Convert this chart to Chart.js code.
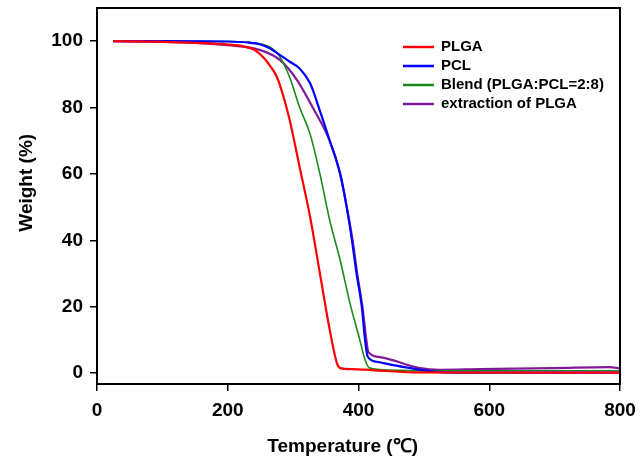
<!DOCTYPE html>
<html>
<head>
<meta charset="utf-8">
<script src="https://cdn.jsdelivr.net/npm/chart.js@4.4.1/dist/chart.umd.min.js"></script>
<style>
  html, body { margin: 0; padding: 0; background: #fff; }
  #wrap { width: 640px; height: 466px; }
</style>
</head>
<body>
<div id="wrap"><canvas id="tga" width="640" height="466"></canvas></div>
<script>
// TGA curves: temperature (C) and weight (%)
const seriesNames = ["PLGA", "PCL", "Blend (PLGA:PCL=2:8)", "extraction of PLGA"];
const seriesColors = ["#ff0000", "#0000ff", "#1a8a1a", "#7f1a9a"];

const plgaT = [25, 100, 150, 200, 225, 240, 255, 265, 275, 285, 295, 310, 326, 341, 356, 367, 372, 390, 420, 484, 600, 800];
const plgaW = [100, 99.8, 99.5, 99, 98.4, 97.5, 95, 92.5, 89.3, 83.5, 76, 62, 47, 30, 13, 3, 1.5, 1.2, 0.9, 0.2, 0.1, 0.1];

const pclT = [25, 100, 200, 230, 250, 265, 280, 295, 310, 326, 341, 356, 372, 382, 390, 397, 405, 410, 414, 428, 470, 524, 600, 800];
const pclW = [100, 100, 99.9, 99.6, 99, 97.8, 95.8, 93.8, 91.8, 87.3, 79, 70, 60, 50, 40, 30, 20, 10, 5, 3.4, 1.8, 0.3, 0.1, 0.1];

const blendT = [25, 100, 200, 240, 260, 270, 280, 295, 310, 326, 341, 356, 372, 387, 402, 410, 417, 448, 500, 600, 800];
const blendW = [100, 100, 99.9, 99.5, 98.6, 97.5, 95.2, 89, 80, 72, 60, 46, 34, 21, 10, 4, 1.5, 0.9, 0.7, 0.7, 0.7];

const extT = [25, 100, 150, 200, 250, 280, 306, 330, 356, 372, 382, 391, 398, 406, 412, 415, 433, 494, 524, 586, 700, 784, 800];
const extW = [100, 99.8, 99.5, 98.8, 97.3, 94.3, 88.3, 80, 70, 60, 50, 40, 30, 20, 10, 6.4, 4.8, 1.5, 1.0, 1.2, 1.5, 1.8, 1.4];

const xTicks = [0, 200, 400, 600, 800];
const yTicks = [0, 20, 40, 60, 80, 100];

const FONT = '"Liberation Sans", Arial, sans-serif';

function pts(ts, ws) {
    return ts.map((t, i) => ({x: t, y: ws[i]}));
}

const allT = [plgaT, pclT, blendT, extT];
const allW = [plgaW, pclW, blendW, extW];

const datasets = seriesNames.map((name, i) => ({
    label: name,
    data: pts(allT[i], allW[i]),
    borderColor: seriesColors[i],
    backgroundColor: seriesColors[i],
    borderWidth: i === 2 ? 1.6 : 2.2,
    pointRadius: 0,
    fill: false,
    cubicInterpolationMode: "monotone"
}));

// box around the plot (top + right sides, the axes draw the rest)
const frame = {
    id: "frame",
    afterDraw(chart) {
        const a = chart.chartArea, ctx = chart.ctx;
        ctx.save();
        ctx.strokeStyle = "#000";
        ctx.lineWidth = 2;
        ctx.strokeRect(a.left, a.top, a.right - a.left, a.bottom - a.top);
        ctx.restore();
    }
};

// legend sits inside the plot, top right, one entry per row
const boxLegend = {
    id: "boxLegend",
    afterDraw(chart, args, opts) {
        const ctx = chart.ctx;
        ctx.save();
        ctx.font = "bold 15px " + FONT;
        ctx.textBaseline = "middle";
        chart.data.datasets.forEach((ds, i) => {
            const y = opts.top + i * opts.row;
            ctx.strokeStyle = ds.borderColor;
            ctx.lineWidth = 2.5;
            ctx.beginPath();
            ctx.moveTo(opts.left, y);
            ctx.lineTo(opts.left + opts.len, y);
            ctx.stroke();
            ctx.fillStyle = "#000";
            ctx.fillText(ds.label, opts.left + opts.len + 7, y);
        });
        ctx.restore();
    }
};

// no extra room for overhanging tick labels, the plot box is fixed
function noPad(s) {
    s.paddingLeft = 0;
    s.paddingRight = 0;
    s.paddingTop = 0;
    s.paddingBottom = 0;
}

new Chart(document.getElementById("tga"), {
    type: "line",
    data: {datasets: datasets},
    plugins: [frame, boxLegend],
    options: {
        responsive: false,
        animation: false,
        layout: {padding: {top: 8, right: 20, left: 0, bottom: 0}},
        plugins: {
            legend: {display: false},
            tooltip: {enabled: false},
            boxLegend: {left: 403, top: 47, row: 19, len: 31}
        },
        scales: {
            x: {
                type: "linear",
                min: 0,
                max: 800,
                afterBuildTicks: s => { s.ticks = xTicks.map(v => ({value: v})); },
                afterFit: s => { s.height = 82; noPad(s); },
                grid: {drawOnChartArea: false, color: "#000", lineWidth: 1.5, tickLength: 7},
                border: {color: "#000", width: 2},
                ticks: {color: "#000", padding: 8, maxRotation: 0, font: {family: FONT, size: 19, weight: "bold"}},
                // trailing spaces nudge the title a bit left of centre, as in the figure
                title: {display: true, text: "Temperature (℃)      ", color: "#000", padding: {bottom: 8}, font: {family: FONT, size: 19, weight: "bold"}}
            },
            y: {
                min: -3.3,
                max: 110,
                afterBuildTicks: s => { s.ticks = yTicks.map(v => ({value: v})); },
                afterFit: s => { s.width = 97; noPad(s); },
                grid: {drawOnChartArea: false, color: "#000", lineWidth: 1.5, tickLength: 7},
                border: {color: "#000", width: 2},
                ticks: {color: "#000", padding: 7, font: {family: FONT, size: 19, weight: "bold"}},
                title: {display: true, text: "     Weight (%)", color: "#000", padding: {top: 15}, font: {family: FONT, size: 19, weight: "bold"}}
            }
        }
    }
});
</script>
</body>
</html>
